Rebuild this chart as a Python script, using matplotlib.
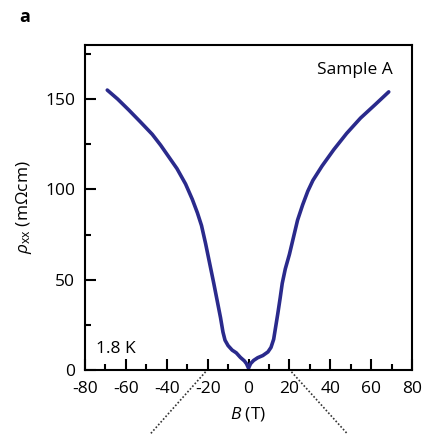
import matplotlib
matplotlib.use('Agg')
import matplotlib.pyplot as plt
import numpy as np

plt.rcParams['font.family'] = ['Open Sans', 'DejaVu Sans']
plt.rcParams['mathtext.fontset'] = 'custom'
plt.rcParams['mathtext.rm'] = 'Open Sans'
plt.rcParams['mathtext.it'] = 'Open Sans:italic'
plt.rcParams['axes.unicode_minus'] = False

# field (T) and resistivity (mOhm cm)
b_left = [-69.1, -64, -58.6, -53, -47.1, -43, -39, -35, -30.8, -27.5, -25, -23, -21,
          -19, -17, -15, -13.7, -12.5, -11.5, -10, -8, -6, -4, -2, -1, 0]
rho_left = [155, 150, 144, 137.5, 130.5, 124.5, 118, 111.5, 103, 94.5, 87, 80, 70,
            59, 48, 36.5, 29, 21, 16.5, 13.5, 11, 9.5, 7, 5, 3.5, 1]
b_right = [0, 1, 2.5, 4.5, 7, 9.5, 11, 12.3, 13.3, 14.3, 15.5, 16.5, 18, 20, 22,
           24, 26.5, 29, 31.5, 36, 41.7, 48, 54.8, 62, 68.6]
rho_right = [1, 3.5, 5.3, 6.8, 8, 10, 12.5, 17, 24, 31, 40, 48, 56, 64, 73.5,
             83, 91.5, 99, 105, 113, 122, 131, 139.5, 147, 154]

b = np.array(b_left + b_right[1:])
rho = np.array(rho_left + rho_right[1:])

fig = plt.figure(figsize=(4.22, 4.34), dpi=100)
ax = fig.add_axes([0.2014, 0.1475, 0.775, 0.749])

ax.plot(b, rho, color='#2a2a8c', linewidth=2.6, solid_capstyle='round', solid_joinstyle='round')

ax.set_xlim(-80, 80)
ax.set_ylim(0, 180)
ax.set_xticks(np.arange(-80, 81, 20))
ax.set_xticks(np.arange(-70, 80, 20), minor=True)
ax.set_yticks([0, 50, 100, 150])
ax.set_yticks([25, 75, 125, 175], minor=True)
ax.tick_params(which='major', direction='in', length=8, width=1.5, labelsize=12.5)
ax.tick_params(which='minor', direction='in', length=4, width=1.5)
ax.tick_params(axis='x', pad=8)
ax.tick_params(axis='y', pad=7)
for s in ax.spines.values():
    s.set_linewidth(1.5)

ax.set_xlabel(r'$B$ (T)', fontsize=12.5, labelpad=6)
ax.set_ylabel(r'$\rho_{\rm xx}$ (mΩcm)', fontsize=12.5, labelpad=8)

ax.text(0.942, 0.923, 'Sample A', transform=ax.transAxes, ha='right', va='center', fontsize=12.5)
ax.text(0.035, 0.065, '1.8 K', transform=ax.transAxes, ha='left', va='center', fontsize=12.5)
fig.text(0.045, 0.96, 'a', fontsize=13, fontweight='bold', ha='left', va='center')

# dotted zoom guide lines below the axis
ax.plot([-21, -48], [-1, -35.4], ls=(0, (1, 1.2)), color='#333333', lw=1.2, clip_on=False)
ax.plot([21, 48.4], [-1, -35.4], ls=(0, (1, 1.2)), color='#333333', lw=1.2, clip_on=False)

fig.savefig('out.png', dpi=100)
